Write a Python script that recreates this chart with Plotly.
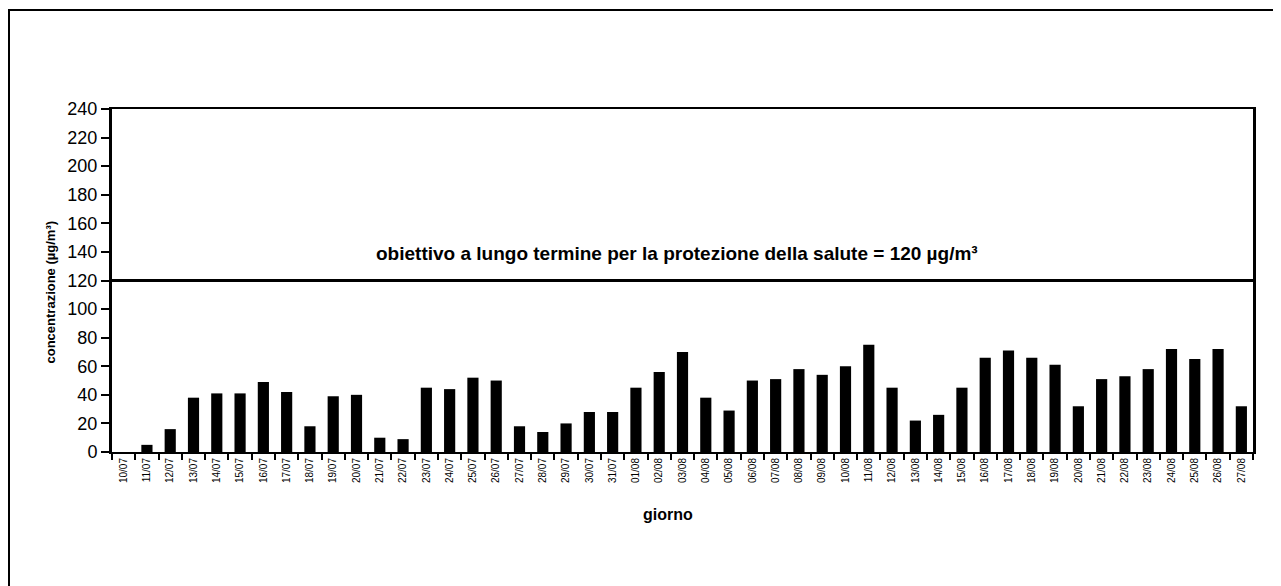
import plotly.graph_objects as go

# Data
days = [f"{d:02d}/07" for d in range(10, 32)] + [f"{d:02d}/08" for d in range(1, 28)]
values = [0, 5, 16, 38, 41, 41, 49, 42, 18, 39, 40, 10, 9, 45, 44, 52, 50,
          18, 14, 20, 28, 28, 45, 56, 70, 38, 29, 50, 51, 58, 54, 60, 75,
          45, 22, 26, 45, 66, 71, 66, 61, 32, 51, 53, 58, 72, 65, 72, 32]
target = 120
y_ticks = list(range(0, 241, 20))
target_label = "obiettivo a lungo termine per la protezione della salute = 120 µg/m³"
y_title = "concentrazione (µg/m³)"
x_title = "giorno"

FONT = "Liberation Sans, Arial, sans-serif"

# page body has an 8px margin; compensate so the picture lands where the reference is
OFF = 8
W, H = 1281, 586
plot_left, plot_right, plot_top, plot_bottom = 112, 1253, 109, 452
L = plot_left - OFF
T = plot_top - OFF
R = W - (plot_right - OFF)
B = H - (plot_bottom - OFF)
pw, ph = W - L - R, H - T - B

def px2paper_x(px):
    return (px - OFF - L) / pw

def px2paper_y(py):
    return (H - B - (py - OFF)) / ph

fig = go.Figure()
fig.add_trace(go.Bar(x=days, y=values, marker=dict(color="black", line=dict(width=0)),
                     showlegend=False, hoverinfo="x+y"))

# target line
fig.add_shape(type="line", xref="paper", x0=0, x1=1, yref="y", y0=target, y1=target,
              line=dict(color="black", width=3))

# outer frame
fig.add_shape(type="rect", xref="paper", yref="paper",
              x0=px2paper_x(9), x1=px2paper_x(1320), y0=px2paper_y(620), y1=px2paper_y(10),
              line=dict(color="black", width=2), fillcolor="rgba(0,0,0,0)", layer="below")

fig.add_annotation(text=f"<b>{target_label}</b>", xref="paper", yref="paper",
                   x=px2paper_x(677), y=px2paper_y(253), showarrow=False,
                   font=dict(family=FONT, size=19, color="black"))
fig.add_annotation(text=f"<b>{y_title}</b>", xref="paper", yref="paper",
                   x=px2paper_x(40), y=px2paper_y(292), textangle=-90, showarrow=False,
                   font=dict(family=FONT, size=13, color="black"))
fig.add_annotation(text=f"<b>{x_title}</b>", xref="paper", yref="paper",
                   x=px2paper_x(668), y=px2paper_y(525), showarrow=False,
                   font=dict(family=FONT, size=16, color="black"))

fig.update_layout(
    width=W, height=H,
    margin=dict(l=L, r=R, t=T, b=B),
    paper_bgcolor="white", plot_bgcolor="white",
    bargap=0.52,
    font=dict(family=FONT, size=18, color="black"),
)
fig.update_xaxes(type="category", showline=True, linecolor="black", linewidth=2, mirror=True,
                 ticks="outside", tickson="boundaries", ticklen=6, tickwidth=2, tickcolor="black",
                 tickangle=-90, tickfont=dict(family=FONT, size=10), showgrid=False)
fig.update_yaxes(range=[0, 240], tickvals=y_ticks, ticksuffix="\u00a0",
                 showline=True, linecolor="black", linewidth=3,
                 mirror=True, ticks="outside", ticklen=8, tickwidth=2, tickcolor="black",
                 showgrid=False, zeroline=False, tickfont=dict(family=FONT, size=18))

fig.write_html("out.html")
